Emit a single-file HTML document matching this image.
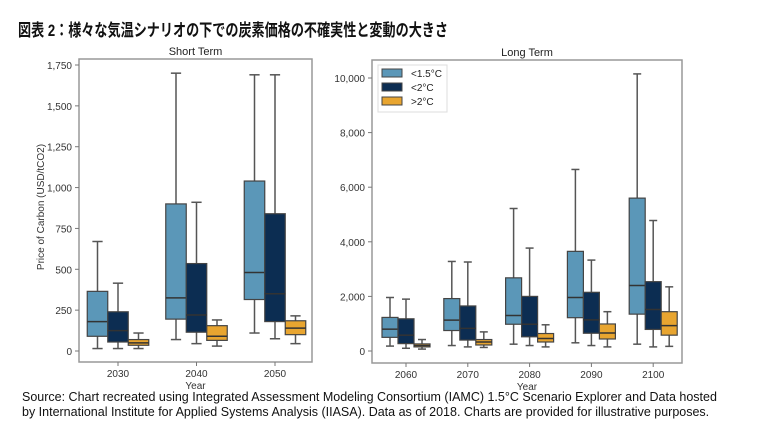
<!DOCTYPE html>
<html><head><meta charset="utf-8"><style>
body{margin:0;background:#fff;width:759px;height:443px;overflow:hidden;font-family:"Liberation Sans","Noto Sans CJK JP",sans-serif}
</style></head><body>
<svg id="chart" width="759" height="443" xmlns="http://www.w3.org/2000/svg" font-family="Liberation Sans, Noto Sans CJK JP, sans-serif">
<g id="content"></g>
<rect x="0" y="40" width="759" height="6" fill="#fff"/>
<text x="18" y="36" font-size="17" font-weight="bold" fill="#111" textLength="430" lengthAdjust="spacingAndGlyphs">図表 2：様々な気温シナリオの下での炭素価格の不確実性と変動の大きさ</text>
<text x="22" y="401" font-size="12.5" fill="#111">Source: Chart recreated using Integrated Assessment Modeling Consortium (IAMC) 1.5°C Scenario Explorer and Data hosted</text>
<text x="22" y="416" font-size="12.5" fill="#111">by International Institute for Applied Systems Analysis (IIASA). Data as of 2018. Charts are provided for illustrative purposes.</text>
</svg>
<script>
const shortYears=["2030","2040","2050"];
const shortLow=[[15,90,180,365,670],[70,195,325,900,1700],[110,315,480,1040,1690]];
const shortMid=[[15,55,125,240,415],[45,115,220,535,910],[75,180,350,840,1690]];
const shortHigh=[[15,35,50,70,110],[30,65,90,155,190],[45,100,140,185,215]];
const shortTicks=[0,250,500,750,1000,1250,1500,1750];
const longYears=["2060","2070","2080","2090","2100"];
const longLow=[[180,500,800,1230,1960],[200,750,1130,1920,3280],[250,980,1300,2680,5220],[300,1220,1960,3650,6650],[250,1350,2400,5600,10150]];
const longMid=[[100,270,580,1180,1900],[150,400,830,1650,3260],[200,520,980,2000,3770],[200,650,1140,2150,3330],[150,790,1520,2540,4780]];
const longHigh=[[70,150,200,260,420],[130,220,330,420,700],[150,330,460,640,960],[150,440,660,990,1440],[170,580,930,1440,2350]];
const longTicks=[0,2000,4000,6000,8000,10000];
const seriesNames=["<1.5°C","<2°C",">2°C"];
const colors=["#5b97b8","#0c2d52","#e8a530"];
const NS="http://www.w3.org/2000/svg";
const root=document.getElementById('content');
function mk(tag,attrs,parent){const e=document.createElementNS(NS,tag);for(const k in attrs)e.setAttribute(k,attrs[k]);(parent||root).appendChild(e);return e;}
function panel(p){
  const g=mk('g',{});
  
  
  const y=v=>p.y0-(v/p.vmax)*(p.y0-p.y1);
  const x=i=>p.xFirst+i*p.step;
  mk('rect',{x:p.fx0,y:p.fy0,width:p.fx1-p.fx0,height:p.fy1-p.fy0,fill:'none',stroke:'#999','stroke-width':1.5},g);
  const t=mk('text',{x:(p.fx0+p.fx1)/2,y:p.fy0-4,'font-size':11,'text-anchor':'middle',fill:'#222'},g);t.textContent=p.title;
  
  
  p.ticks.forEach(v=>{
    mk('line',{x1:p.fx0-4,x2:p.fx0,y1:y(v),y2:y(v),stroke:'#777'},g);
    const tt=mk('text',{x:p.fx0-7,y:y(v)+4,'font-size':10,'text-anchor':'end',fill:'#333'},g);tt.textContent=v.toLocaleString('en-US');
    
    
  });
  p.cats.forEach((c,i)=>{
    mk('line',{x1:x(i),x2:x(i),y1:p.fy1,y2:p.fy1+4,stroke:'#777'},g);
    const tt=mk('text',{x:x(i),y:p.fy1+15,'font-size':10,'text-anchor':'middle',fill:'#333'},g);tt.textContent=c;
    
    
    p.series.forEach((s,k)=>{
      const d=s[i];const cx=x(i)+(k-1)*p.bw;const l=cx-p.bw/2;
      const b=mk('g',{},g);
      
      
      const st={stroke:'#555','stroke-width':1.5};
      mk('line',Object.assign({x1:cx,x2:cx,y1:y(d[0]),y2:y(d[1])},st),b);
      mk('line',Object.assign({x1:cx,x2:cx,y1:y(d[3]),y2:y(d[4])},st),b);
      mk('line',Object.assign({x1:cx-p.bw/4,x2:cx+p.bw/4,y1:y(d[0]),y2:y(d[0])},st),b);
      mk('line',Object.assign({x1:cx-p.bw/4,x2:cx+p.bw/4,y1:y(d[4]),y2:y(d[4])},st),b);
      mk('rect',{x:l,y:y(d[3]),width:p.bw,height:y(d[1])-y(d[3]),fill:colors[k],stroke:'#444','stroke-width':1.2},b);
      mk('line',{x1:l,x2:l+p.bw,y1:y(d[2]),y2:y(d[2]),stroke:'#333','stroke-width':1.5},b);
    });
  });
  const xl=mk('text',{x:(p.fx0+p.fx1)/2,y:p.fy1+27,'font-size':10,'text-anchor':'middle',fill:'#333'},g);xl.textContent='Year';
  
  
}
panel({name:'short-term-panel',title:'Short Term',fx0:79,fx1:312,fy0:59,fy1:362,y0:351,y1:65,vmax:1750,xFirst:118,step:78.5,bw:20.5,cats:shortYears,series:[shortLow,shortMid,shortHigh],ticks:shortTicks});
panel({name:'long-term-panel',title:'Long Term',fx0:372,fx1:682,fy0:60,fy1:363,y0:351,y1:78,vmax:10000,xFirst:406,step:61.8,bw:16,cats:longYears,series:[longLow,longMid,longHigh],ticks:longTicks});
const yl=mk('text',{x:0,y:0,'font-size':10,'text-anchor':'middle',fill:'#333',transform:'translate(44,207) rotate(-90)'});yl.textContent='Price of Carbon (USD/tCO2)';


const lg=mk('g',{});


mk('rect',{x:378,y:65,width:69,height:47,fill:'#fff',stroke:'#ddd'},lg);
seriesNames.forEach((n,k)=>{
  const e=mk('g',{},lg);
  
  
  mk('rect',{x:382,y:69+k*14,width:20,height:8,fill:colors[k],stroke:'#444'},e);
  const t=mk('text',{x:411,y:77+k*14,'font-size':10,fill:'#222'},e);t.textContent=n;
});
</script>
</body></html>
